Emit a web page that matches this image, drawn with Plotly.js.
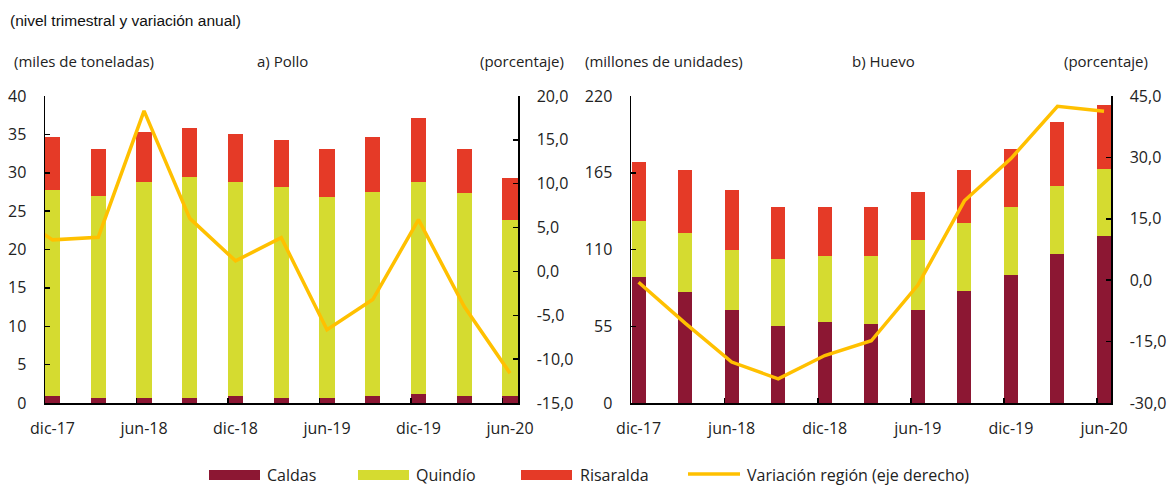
<!DOCTYPE html>
<html>
<head>
<meta charset="utf-8">
<script src="https://cdn.plot.ly/plotly-3.0.1.min.js"></script>
<style>
html,body{margin:0;padding:0;background:#fff;}
#chart{width:1172px;height:487px;}
</style>
</head>
<body>
<div id="chart"></div>
<script>
// ---------- data ----------
const quarters = ['dic-17','mar-18','jun-18','sep-18','dic-18','mar-19','jun-19','sep-19','dic-19','mar-20','jun-20'];
const tickLabels = ['dic-17','jun-18','dic-18','jun-19','dic-19','jun-20'];

// a) Pollo (miles de toneladas)
const polloCaldas    = [0.9, 0.6, 0.6, 0.6, 0.9, 0.6, 0.6, 0.9, 1.15, 0.9, 0.9];
const polloQuindio   = [26.9, 26.4, 28.2, 28.9, 27.9, 27.5, 26.2, 26.6, 27.65, 26.4, 22.9];
const polloRisaralda = [6.8, 6.1, 6.55, 6.3, 6.3, 6.2, 6.3, 7.1, 8.3, 5.8, 5.5];
const polloVar       = [3.6, 3.9, 18.3, 6.05, 1.2, 3.85, -6.65, -3.2, 5.9, -4.0, -11.6];
const polloVarPrev   = 7.1; // sep-17, only its segment enters the plot

// b) Huevo (millones de unidades)
const huevoCaldas    = [90.6, 79.4, 67.0, 55.5, 58.4, 56.9, 67.0, 80.6, 91.8, 107.0, 119.7];
const huevoQuindio   = [40.0, 42.7, 42.7, 47.5, 47.2, 48.7, 49.8, 48.6, 48.6, 48.4, 48.1];
const huevoRisaralda = [41.8, 44.6, 43.1, 37.2, 34.6, 34.6, 34.6, 37.7, 41.5, 45.8, 46.1];
const huevoVar       = [-0.5, -10.5, -20.0, -24.1, -18.4, -14.8, -1.2, 19.4, 29.7, 42.5, 41.3];

// axis ticks
const polloLeftTicks  = [0, 5, 10, 15, 20, 25, 30, 35, 40];
const polloRightTicks = [-15, -10, -5, 0, 5, 10, 15, 20];
const polloRightText  = ['-15,0','-10,0','-5,0','0,0','5,0','10,0','15,0','20,0'];
const huevoLeftTicks  = [0, 55, 110, 165, 220];
const huevoRightTicks = [-30, -15, 0, 15, 30, 45];
const huevoRightText  = ['-30,0','-15,0','0,0','15,0','30,0','45,0'];

const seriesNames = ['Caldas', 'Quindío', 'Risaralda', 'Variación región (eje derecho)'];
const subtitle = '(nivel trimestral y variación anual)';
const unitLabels = ['(miles de toneladas)', 'a) Pollo', '(porcentaje)', '(millones de unidades)', 'b) Huevo', '(porcentaje)'];

// ---------- styling ----------
const colors = ['#8C1733', '#D5DB30', '#E53A27', '#FFC000'];
const FONT = 'Open Sans, Noto Sans, sans-serif';
const idx = quarters.map((q, i) => i);
const tickIdx = tickLabels.map(t => quarters.indexOf(t));

// page geometry helpers (pixel -> paper)
const M = {l: 45, r: 61, t: 96, b: 84};
const W = 1172 - M.l - M.r, H = 487 - M.t - M.b;
const px = x => (x - M.l) / W;
const py = y => (487 - M.b - y) / H;

function bars(vals, i, xa, ya, w) {
  return {type: 'bar', x: idx, y: vals, xaxis: xa, yaxis: ya, width: w,
          marker: {color: colors[i], line: {width: 0}}, name: seriesNames[i], showlegend: false,
          hoverinfo: 'y'};
}

const traces = [
  bars(polloCaldas, 0, 'x', 'y', 0.33),
  bars(polloQuindio, 1, 'x', 'y', 0.33),
  bars(polloRisaralda, 2, 'x', 'y', 0.33),
  {type: 'scatter', mode: 'lines', x: [-1].concat(idx), y: [polloVarPrev].concat(polloVar),
   xaxis: 'x', yaxis: 'y2', line: {color: colors[3], width: 3.5}, showlegend: false, name: seriesNames[3]},
  bars(huevoCaldas, 0, 'x2', 'y3', 0.30),
  bars(huevoQuindio, 1, 'x2', 'y3', 0.30),
  bars(huevoRisaralda, 2, 'x2', 'y3', 0.30),
  {type: 'scatter', mode: 'lines', x: idx, y: huevoVar,
   xaxis: 'x2', yaxis: 'y4', line: {color: colors[3], width: 3.5}, showlegend: false, name: seriesNames[3]}
];

const tickFont = {family: FONT, size: 16, color: '#222'};
function xAxis(domain, range, edgeOff) {
  return {domain: domain, range: range, anchor: domain[0] === 0 ? 'y' : 'y3',
    tickmode: 'array', tickvals: tickIdx, ticktext: tickLabels, ticks: '',
    tickfont: tickFont, ticklabelstandoff: 10,
    showline: true, linecolor: '#000', linewidth: 1.5, showgrid: false, zeroline: false,
    minor: {tickmode: 'array', tickvals: tickIdx.slice(1).map(v => v - edgeOff),
            ticks: 'inside', ticklen: 5, tickwidth: 1.5, tickcolor: '#000', showgrid: false}};
}
function yAxis(extra) {
  return Object.assign({showline: true, linecolor: '#000', linewidth: 1.5, showgrid: false, zeroline: false,
    ticks: 'inside', ticklen: 5, tickwidth: 1.5, tickcolor: '#000', tickfont: tickFont,
    tickmode: 'array', ticklabelstandoff: 14}, extra);
}

const d1 = [0, px(518)], d2 = [px(631), 1];
const layout = {
  width: 1172, height: 487, margin: M, paper_bgcolor: '#fff', plot_bgcolor: 'rgba(0,0,0,0)',
  barmode: 'stack', bargap: 0, showlegend: false, font: {family: FONT, color: '#222'},
  xaxis: xAxis(d1, [-0.165, 10.175], 0.165),
  xaxis2: xAxis(d2, [-0.163, 10.15], 0.15),
  yaxis: yAxis({anchor: 'x', range: [0, 40], tickvals: polloLeftTicks}),
  yaxis2: yAxis({anchor: 'x', overlaying: 'y', side: 'right', range: [-15, 20],
                 tickvals: polloRightTicks, ticktext: polloRightText}),
  yaxis3: yAxis({anchor: 'x2', range: [0, 220], tickvals: huevoLeftTicks}),
  yaxis4: yAxis({anchor: 'x2', overlaying: 'y3', side: 'right', range: [-30, 45],
                 tickvals: huevoRightTicks, ticktext: huevoRightText}),
  annotations: [], shapes: []
};

// subtitle
layout.annotations.push({xref: 'paper', yref: 'paper', x: px(8), y: py(21), xanchor: 'left', yanchor: 'middle',
  text: subtitle, showarrow: false, font: {family: 'Liberation Sans, Arial, sans-serif', size: 15.5, color: '#111'}});
// unit / panel labels
const unitX = [12, 255, 478, 583, 850, 1062];
unitLabels.forEach((t, i) => layout.annotations.push({xref: 'paper', yref: 'paper', x: px(unitX[i]), y: py(61),
  xanchor: 'left', yanchor: 'middle', text: t, showarrow: false, font: {family: FONT, size: 15, color: '#222'}}));

// custom legend
const legSw = [[209, 260], [358, 409], [521, 572], [688, 740]];
const legTx = [265, 414, 578, 745];
seriesNames.forEach((n, i) => {
  if (i < 3) {
    layout.shapes.push({type: 'rect', xref: 'paper', yref: 'paper', x0: px(legSw[i][0]), x1: px(legSw[i][1]),
      y0: py(480), y1: py(470), fillcolor: colors[i], line: {width: 0}});
  } else {
    layout.shapes.push({type: 'line', xref: 'paper', yref: 'paper', x0: px(legSw[i][0]), x1: px(legSw[i][1]),
      y0: py(474), y1: py(474), line: {color: colors[i], width: 3.5}});
  }
  layout.annotations.push({xref: 'paper', yref: 'paper', x: px(legTx[i]), y: py(475), xanchor: 'left', yanchor: 'middle',
    text: n, showarrow: false, font: {family: FONT, size: 16, color: '#222'}});
});

Plotly.newPlot('chart', traces, layout, {displayModeBar: false, staticPlot: true});
</script>
</body>
</html>
